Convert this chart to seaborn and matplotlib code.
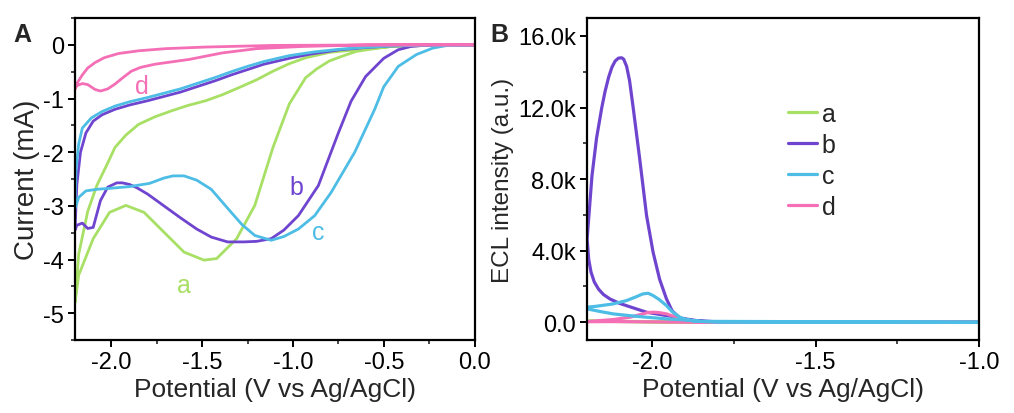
import numpy as np
import pandas as pd
import matplotlib
matplotlib.use("Agg")
import matplotlib.pyplot as plt
import seaborn as sns
from matplotlib.ticker import MultipleLocator, FuncFormatter

sns.set_theme(style="ticks")
plt.rcParams['font.family'] = ['Liberation Sans', 'DejaVu Sans']

# ---------------- Panel A: CV (potential V, current mA) ----------------
a_x = [0.0, -0.3, -0.46, -0.55, -0.65, -0.72, -0.80, -0.87, -0.93, -1.02, -1.11, -1.21, -1.31, -1.42, -1.49, -1.60, -1.71,
       -1.82, -1.92, -2.01, -2.10, -2.18, -2.2,
       -2.18, -2.13, -2.08, -2.02, -1.98, -1.92, -1.85, -1.76, -1.67, -1.58, -1.48, -1.39, -1.30, -1.20,
       -1.11, -1.02, -0.93, -0.80, -0.65, -0.46, -0.2, 0.0]
a_y = [0.0, 0.0, -0.03, -0.07, -0.12, -0.20, -0.30, -0.45, -0.61, -1.10, -1.91, -2.99, -3.61, -3.98, -4.01, -3.86, -3.49,
       -3.12, -2.99, -3.12, -3.61, -4.29, -4.80,
       -3.90, -3.10, -2.62, -2.20, -1.91, -1.68, -1.48, -1.34, -1.23, -1.13, -1.04, -0.93, -0.80, -0.65,
       -0.49, -0.35, -0.24, -0.14, -0.09, -0.03, -0.005, 0.0]

b_x = [0.0, -0.25, -0.35, -0.42, -0.50, -0.60, -0.68, -0.75, -0.86, -0.97, -1.05, -1.12, -1.20, -1.27,
       -1.36, -1.45, -1.53, -1.62, -1.71, -1.80, -1.86, -1.90, -1.94, -1.97, -2.02, -2.06, -2.10, -2.13, -2.16,
       -2.19, -2.2,
       -2.19, -2.17, -2.14, -2.10, -2.05, -1.98, -1.90, -1.80, -1.71, -1.62, -1.53, -1.43, -1.34,
       -1.25, -1.16, -1.02, -0.90, -0.74, -0.60, -0.46, -0.3, 0.0]
b_y = [0.0, 0.0, -0.03, -0.09, -0.25, -0.59, -1.05, -1.64, -2.62, -3.18, -3.45, -3.61, -3.66, -3.67,
       -3.67, -3.58, -3.43, -3.22, -3.00, -2.78, -2.66, -2.60, -2.57, -2.57, -2.65, -2.90, -3.40, -3.42, -3.32,
       -3.36, -3.45,
       -2.60, -2.00, -1.64, -1.42, -1.30, -1.20, -1.12, -1.04, -0.96, -0.88, -0.78, -0.67, -0.56,
       -0.46, -0.36, -0.25, -0.17, -0.09, -0.05, -0.02, -0.005, 0.0]

c_x = [0.0, -0.15, -0.23, -0.32, -0.42, -0.50, -0.55, -0.66, -0.79, -0.88, -0.97, -1.05, -1.12,
       -1.21, -1.28, -1.34, -1.45, -1.53, -1.60, -1.66, -1.71, -1.79, -1.90, -2.00, -2.08, -2.14, -2.18,
       -2.2,
       -2.195, -2.18, -2.16, -2.11, -2.05, -1.98, -1.90, -1.80, -1.71, -1.62, -1.53, -1.43, -1.34,
       -1.25, -1.16, -1.02, -0.88, -0.74, -0.60, -0.46, -0.2, 0.0]
c_y = [0.0, -0.01, -0.06, -0.18, -0.40, -0.78, -1.20, -2.00, -2.75, -3.18, -3.43, -3.57, -3.64,
       -3.55, -3.35, -3.12, -2.69, -2.52, -2.44, -2.44, -2.48, -2.58, -2.64, -2.67, -2.69, -2.72, -2.84,
       -3.05,
       -2.35, -1.85, -1.55, -1.36, -1.24, -1.14, -1.06, -0.98, -0.90, -0.82, -0.72, -0.61, -0.50,
       -0.40, -0.31, -0.20, -0.13, -0.08, -0.045, -0.02, -0.004, 0.0]

d_x = [0.0, -0.60, -0.95, -1.20, -1.39, -1.57, -1.76, -1.84, -1.89, -1.94, -1.98, -2.02, -2.06,
       -2.09, -2.13, -2.16, -2.19, -2.2,
       -2.19, -2.16, -2.13, -2.09, -2.04, -1.96, -1.85, -1.70, -1.48, -1.11, -0.80, -0.40, 0.0]
d_y = [0.0, 0.0, -0.03, -0.07, -0.15, -0.27, -0.36, -0.42, -0.49, -0.62, -0.73, -0.82, -0.86,
       -0.83, -0.74, -0.72, -0.76, -0.82,
       -0.72, -0.56, -0.43, -0.33, -0.24, -0.16, -0.11, -0.07, -0.04, -0.01, -0.005, 0.0, 0.0]

# ---------------- Panel B: ECL (potential V, intensity a.u.) ----------------
ea_x = [-1.0, -1.80, -1.90, -2.00, -2.10, -2.2, -2.10, -2.00, -1.90, -1.0]
ea_y = [0, 0, 10, 30, 50, 60, 40, 20, 5, 0]

eb_x = [-1.0, -1.75, -1.82, -1.87, -1.90, -1.916, -1.94, -1.957, -1.978, -1.998, -2.018, -2.039, -2.059,
        -2.070, -2.079, -2.088, -2.094, -2.104, -2.114, -2.124, -2.134, -2.145, -2.155, -2.171, -2.185, -2.2,
        -2.195, -2.188, -2.178, -2.165, -2.15, -2.13, -2.10, -2.05, -2.018, -1.957, -1.90, -1.865, -1.80,
        -1.0]
eb_y = [0, 0, 20, 70, 150, 220, 650, 1305, 2400, 3917, 5968, 9139, 12000,
        13500, 14300, 14700, 14780, 14760, 14600, 14250, 13700, 12900, 12000, 10300, 8200, 4660,
        3500, 2800, 2250, 1850, 1550, 1300, 1050, 750, 560, 373, 190, 93, 20,
        0]

ec_x = [-1.0, -1.80, -1.87, -1.90, -1.916, -1.94, -1.957, -1.98, -1.998, -2.013, -2.03, -2.05, -2.079, -2.12,
        -2.171, -2.2,
        -2.2, -2.16, -2.12, -2.07, -2.018, -1.95, -1.916, -1.85, -1.0]
ec_y = [0, 0, 60, 170, 280, 600, 932, 1280, 1492, 1620, 1580, 1420, 1212, 1026,
        895, 840,
        746, 600, 466, 370, 280, 180, 150, 50, 0]

ed_x = [-1.0, -1.85, -1.896, -1.93, -1.957, -1.98, -1.998, -2.015, -2.029, -2.069, -2.12, -2.2,
        -2.2, -2.12, -2.00, -1.90, -1.0]
ed_y = [0, 0, 93, 300, 466, 540, 560, 540, 466, 280, 150, 37,
        30, 37, 20, 5, 0]

labels = ["a", "b", "c", "d"]
colors = ["#a8e065", "#6f45cf", "#4dbde6", "#f46fb6"]
palette = dict(zip(labels, colors))


def make_df(xs, ys):
    frames = []
    for lab, x, y in zip(labels, xs, ys):
        frames.append(pd.DataFrame({"x": x, "y": y, "sample": lab, "idx": np.arange(len(x))}))
    return pd.concat(frames, ignore_index=True)


cv = make_df([a_x, b_x, c_x, d_x], [a_y, b_y, c_y, d_y])
ecl = make_df([ea_x, eb_x, ec_x, ed_x], [ea_y, eb_y, ec_y, ed_y])

fig = plt.figure(figsize=(10.14, 4.14), dpi=100)
axA = fig.add_axes([0.074, 0.176, 0.394, 0.778])
axB = fig.add_axes([0.579, 0.176, 0.3865, 0.778])

sns.lineplot(data=cv, x="x", y="y", hue="sample", palette=palette, sort=False,
             estimator=None, units="sample", lw=2.0, ax=axA, legend=False,
             solid_joinstyle="round", solid_capstyle="round")
sns.lineplot(data=ecl, x="x", y="y", hue="sample", palette=palette, sort=False,
             estimator=None, units="sample", lw=2.3, ax=axB,
             hue_order=["a", "b", "d", "c"], solid_joinstyle="round")

tick_fs = 17
label_fs = 19

for ax in (axA, axB):
    for s in ax.spines.values():
        s.set_visible(True)
        s.set_linewidth(1.6)
        s.set_color("black")
    ax.tick_params(which="major", direction="out", length=5, width=1.4, labelsize=tick_fs,
                   colors="black", pad=3)
    ax.tick_params(which="minor", direction="out", length=3, width=1.2)
    ax.set_xlabel("Potential (V vs Ag/AgCl)", fontsize=label_fs, labelpad=3)

axA.set_xlim(-2.2, 0.0)
axA.set_ylim(-5.5, 0.5)
axA.xaxis.set_major_locator(MultipleLocator(0.5))
axA.xaxis.set_minor_locator(MultipleLocator(0.25))
axA.yaxis.set_major_locator(MultipleLocator(1))
axA.yaxis.set_minor_locator(MultipleLocator(0.5))
axA.xaxis.set_major_formatter(FuncFormatter(lambda v, p: f"{v:.1f}"))
axA.yaxis.set_major_formatter(FuncFormatter(lambda v, p: f"{v:.0f}" if abs(v) > 1e-9 else "0"))
axA.set_ylabel("Current (mA)", fontsize=20, labelpad=2)

axA.text(-1.83, -0.76, "d", color=colors[3], fontsize=18, ha="center", va="center")
axA.text(-0.98, -2.65, "b", color=colors[1], fontsize=18, ha="center", va="center")
axA.text(-0.86, -3.48, "c", color=colors[2], fontsize=18, ha="center", va="center")
axA.text(-1.60, -4.48, "a", color=colors[0], fontsize=18, ha="center", va="center")

axB.set_xlim(-2.2, -1.0)
axB.set_ylim(-1000, 17000)
axB.xaxis.set_major_locator(MultipleLocator(0.5))
axB.xaxis.set_minor_locator(MultipleLocator(0.25))
axB.yaxis.set_major_locator(MultipleLocator(4000))
axB.yaxis.set_minor_locator(MultipleLocator(2000))
axB.xaxis.set_major_formatter(FuncFormatter(lambda v, p: f"{v:.1f}"))
axB.yaxis.set_major_formatter(FuncFormatter(lambda v, p: "0.0" if abs(v) < 1e-9 else f"{v/1000:.1f}k"))
axB.set_ylabel("ECL intensity (a.u.)", fontsize=17.5, labelpad=3)

handles, labs = axB.get_legend_handles_labels()
order = [labs.index(l) for l in labels]
leg = axB.legend([handles[i] for i in order], [labs[i] for i in order],
                 loc="upper left", bbox_to_anchor=(0.513, 0.74), frameon=False,
                 borderaxespad=0, borderpad=0,
                 fontsize=18, handlelength=1.15, handletextpad=0.2, labelspacing=0.28)
for h in leg.get_lines():
    h.set_linewidth(2.3)

fig.text(0.013, 0.915, "A", fontsize=18, fontweight="bold", ha="left", va="center")
fig.text(0.484, 0.915, "B", fontsize=18, fontweight="bold", ha="left", va="center")

fig.savefig("out.png", dpi=100)
